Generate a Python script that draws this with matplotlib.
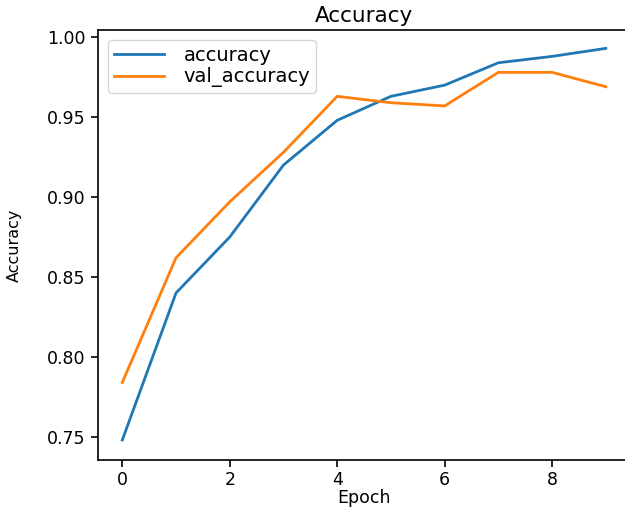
import matplotlib
matplotlib.use("Agg")
import matplotlib.pyplot as plt

epochs = list(range(10))
accuracy = [0.748, 0.840, 0.875, 0.920, 0.948, 0.963, 0.970, 0.984, 0.988, 0.993]
val_accuracy = [0.784, 0.862, 0.897, 0.928, 0.963, 0.959, 0.957, 0.978, 0.978, 0.969]

fig = plt.figure(figsize=(6.25, 5.12), dpi=100)
ax = fig.add_axes([0.157, 0.1016, 0.851, 0.8398])
ax.plot(epochs, accuracy, label="accuracy", color="#1f77b4", lw=2.0)
ax.plot(epochs, val_accuracy, label="val_accuracy", color="#ff7f0e", lw=2.0)
ax.set_title("Accuracy", fontsize=15.5, pad=6)
ax.set_xlabel("Epoch", fontsize=12.5, labelpad=0)
ax.set_ylabel("Accuracy", fontsize=11.5)
ax.yaxis.set_label_coords(-0.143, 0.5)
ax.set_xlim(-0.45, 9.45)
ax.set_ylim(0.7355, 1.0045)
ax.set_xticks([0, 2, 4, 6, 8])
ax.set_yticks([0.75, 0.80, 0.85, 0.90, 0.95, 1.00])
ax.tick_params(labelsize=12.5, length=5, width=1.2, pad=4)
ax.tick_params(axis="x", pad=3)
for s in ax.spines.values():
    s.set_linewidth(1.2)
ax.legend(loc="upper left", fontsize=14, handlelength=2.6, handletextpad=1.0,
          labelspacing=0.15, borderpad=0.3)
fig.savefig("out.png", dpi=100)
